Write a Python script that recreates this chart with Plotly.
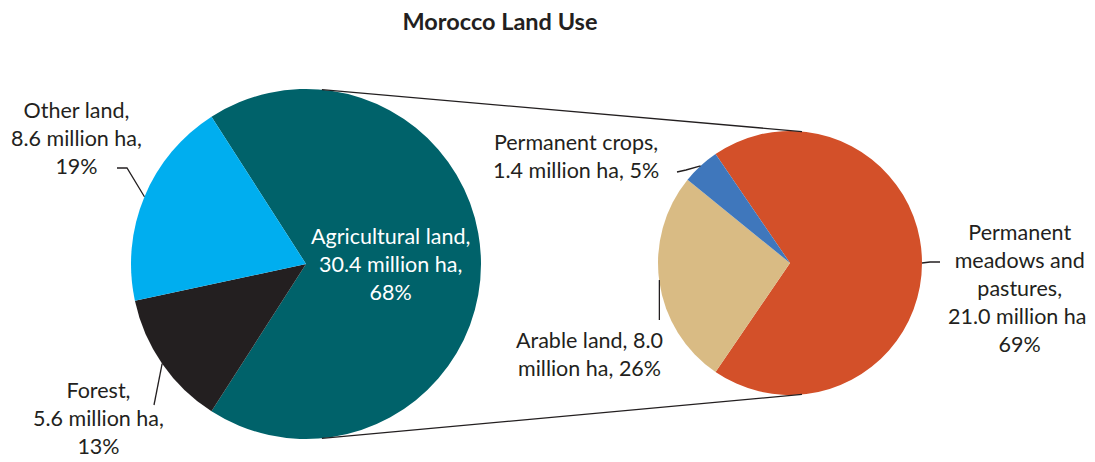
import math
import plotly.graph_objects as go

# page body has an 8px margin, so the figure is drawn from (8, 8)
OFF = 8
W, H = 1095 - OFF, 462 - OFF

# ---- data ----
land_labels = ["Agricultural land", "Forest", "Other land"]
land_values = [30.4, 5.6, 8.6]
land_pct = [68, 13, 19]
land_colors = ["#00626A", "#231F20", "#00AEEF"]

agri_labels = ["Permanent meadows and pastures", "Arable land", "Permanent crops"]
agri_values = [21.0, 8.0, 1.4]
agri_pct = [69, 26, 5]
agri_colors = ["#D35029", "#D9BB84", "#3F77BC"]

title = "Morocco Land Use"

# ---- layout geometry (screen pixels) ----
L_CX, L_CY, L_R = 306, 264, 175
R_CX, R_CY, R_R = 790, 263, 132
FONT = "Lato"
TXT = "#231F20"
FS = 21.5


def px(x):
    return (x - OFF) / W


def py(y):
    return 1 - (y - OFF) / H


def rotation_for(values):
    share = values[0] / sum(values)
    return 90 - 180 * share


def mid_point(values, idx, cx, cy, r):
    rot = rotation_for(values)
    tot = sum(values)
    start = rot + 360 * sum(values[:idx]) / tot
    ang = math.radians(start + 180 * values[idx] / tot)
    return cx + r * math.sin(ang), cy - r * math.cos(ang)


fig = go.Figure()
fig.add_trace(go.Pie(
    labels=land_labels, values=land_values, sort=False, direction="clockwise",
    rotation=rotation_for(land_values), textinfo="none", hoverinfo="label+value",
    marker=dict(colors=land_colors, line=dict(width=0)),
    domain=dict(x=[px(L_CX - L_R), px(L_CX + L_R)], y=[py(L_CY + L_R), py(L_CY - L_R)]),
    showlegend=False,
))
fig.add_trace(go.Pie(
    labels=agri_labels, values=agri_values, sort=False, direction="clockwise",
    rotation=rotation_for(agri_values), textinfo="none", hoverinfo="label+value",
    marker=dict(colors=agri_colors, line=dict(width=0)),
    domain=dict(x=[px(R_CX - R_R), px(R_CX + R_R)], y=[py(R_CY + R_R), py(R_CY - R_R)]),
    showlegend=False,
))

shapes = []


def seg(pts, width=1.3):
    path = "M " + " L ".join(f"{px(x)},{py(y)}" for x, y in pts)
    shapes.append(dict(type="path", path=path, xref="paper", yref="paper",
                       line=dict(color=TXT, width=width)))


# connector lines between the pies
a = math.radians(5.2)
seg([(L_CX + L_R * math.sin(a), L_CY - L_R * math.cos(a)),
     (R_CX + R_R * math.sin(a), R_CY - R_R * math.cos(a))])
seg([(L_CX + L_R * math.sin(a), L_CY + L_R * math.cos(a)),
     (R_CX + R_R * math.sin(a), R_CY + R_R * math.cos(a))])

# leader lines
p_other = mid_point(land_values, 2, L_CX, L_CY, L_R)
seg([p_other, (127, 168), (117, 168)])
p_forest = mid_point(land_values, 1, L_CX, L_CY, L_R)
seg([p_forest, (154, 405)])
p_crops = mid_point(agri_values, 2, R_CX, R_CY, R_R)
seg([p_crops, (686, 170), (677, 172)])
p_arable = mid_point(agri_values, 1, R_CX, R_CY, R_R)
seg([(p_arable[0], p_arable[1] - 2), (p_arable[0], 320)])
p_mead = mid_point(agri_values, 0, R_CX, R_CY, R_R)
seg([p_mead, (930, 262), (940, 262)])

annotations = []


def note(text, x, y, color=TXT, size=FS):
    annotations.append(dict(text=text, x=px(x), y=py(y), xref="paper", yref="paper",
                            showarrow=False, align="center", xanchor="center",
                            yanchor="middle", font=dict(family=FONT, size=size, color=color)))


note(f"{land_labels[2]},<br>{land_values[2]:.1f} million ha,<br>{land_pct[2]}%", 76, 138)
note(f"{land_labels[1]},<br>{land_values[1]:.1f} million ha,<br>{land_pct[1]}%", 98, 418)
note(f"{land_labels[0]},<br>{land_values[0]:.1f} million ha,<br>{land_pct[0]}%", 390, 264, color="white")
note(f"{agri_labels[2]},<br>{agri_values[2]:.1f} million ha, {agri_pct[2]}%", 576, 156)
note(f"{agri_labels[1]}, {agri_values[1]:.1f}<br>million ha, {agri_pct[1]}%", 589, 354)
note(f"Permanent<br>meadows and<br>pastures,<br>{agri_values[0]:.1f} million ha,<br>{agri_pct[0]}%", 1019, 288)

fig.update_layout(
    width=W, height=H,
    margin=dict(l=0, r=0, t=0, b=0),
    paper_bgcolor="white", plot_bgcolor="white",
    title=dict(text=f"<b>{title}</b>", x=px(500), xanchor="center", y=py(22), yanchor="middle",
               font=dict(family=FONT, size=23.5, color=TXT)),
    shapes=shapes, annotations=annotations,
)

fig.write_html("out.html")
